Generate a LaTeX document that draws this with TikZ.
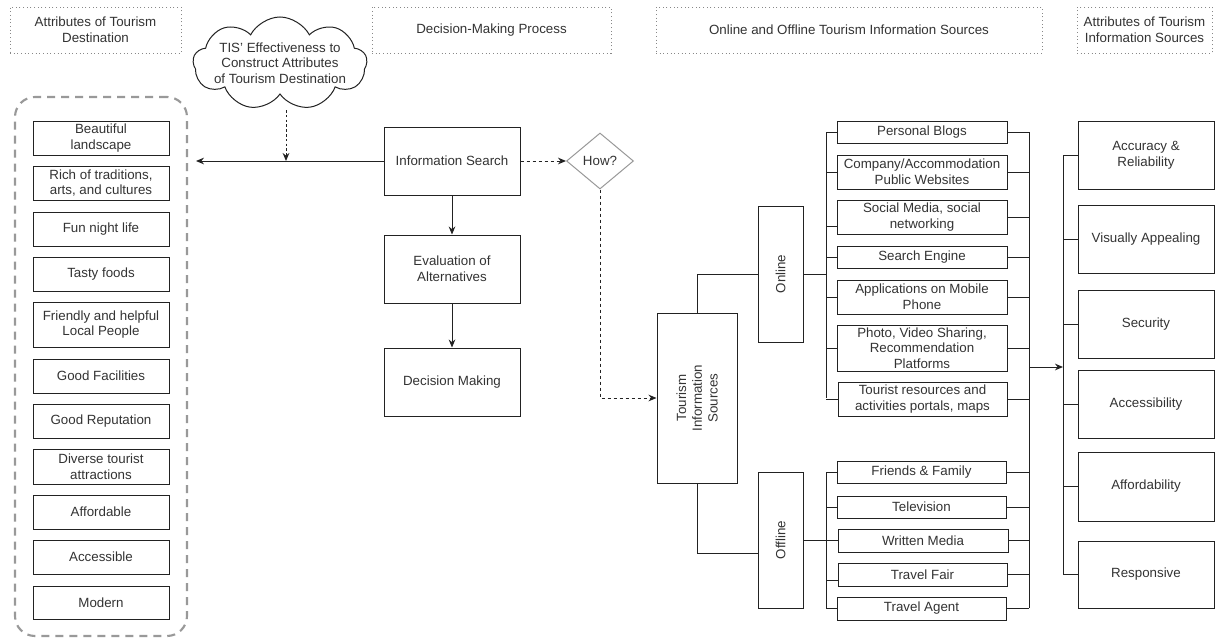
\documentclass[tikz,border=0pt]{standalone}
\usepackage{fontspec}
\setmainfont{Liberation Sans}
\usetikzlibrary{arrows.meta,shapes.geometric,shapes.symbols}
\definecolor{txt}{HTML}{333333}
\definecolor{ln}{HTML}{222222}
\definecolor{hdr}{HTML}{888888}
\definecolor{grp}{HTML}{999999}
\newcommand\pbox[6][]{\node[boxst,#1,minimum width={(#4-#2)*0.75pt},minimum height={(#5-#3)*0.75pt}] (#6) at ({(#2+#4)/2},{(#3+#5)/2})}
\newcommand\pboxr[6][]{\node[boxst,rotate=90,#1,minimum width={(#5-#3)*0.75pt},minimum height={(#4-#2)*0.75pt}] (#6) at ({(#2+#4)/2},{(#3+#5)/2})}
\tikzset{
  boxst/.style={draw=ln, line width=0.75pt, rectangle, inner sep=0pt, align=center, text=txt, font=\fontsize{10}{11.8}\selectfont},
  hdrst/.style={boxst, draw=hdr, dotted, line width=0.7pt},
  txtst/.style={align=center, text=txt, inner sep=0pt, font=\fontsize{10}{11.8}\selectfont},
  conn/.style={draw=ln, line width=0.75pt},
  arr/.style={conn, -{Stealth[length=6pt,width=5pt]}},
  dasharr/.style={arr, dash pattern=on 2.5pt off 2pt},
  dotarr/.style={arr, dash pattern=on 2pt off 1.6pt},
}
\begin{document}
\begin{tikzpicture}[x=0.75pt,y=-0.75pt]
\useasboundingbox (0,0) rectangle (1215,639);
\fill[white] (0,0) rectangle (1215,639);

% headers
\pbox[hdrst]{10}{7}{181}{53}{h1} {Attributes of Tourism\\Destination};
\pbox[hdrst]{372}{7}{611}{53}{h2} {Decision-Making Process};
\pbox[hdrst]{656}{7}{1042}{53}{h3} {Online and Offline Tourism Information Sources};
\pbox[hdrst]{1077}{7}{1212}{53}{h4} {Attributes of Tourism\\Information Sources};

% cloud
\node[cloud, draw=ln, line width=0.75pt, cloud puffs=9, cloud puff arc=125, cloud ignores aspect,
      minimum width=174*0.75pt, minimum height=93*0.75pt, inner sep=0pt] (cloud) at (280,63.5) {};
\node[txtst] (cloudtxt) at (280,63) {TIS' Effectiveness to\\Construct Attributes\\of Tourism Destination};

% dashed group
\node[draw=grp, line width=1.6pt, dash pattern=on 6pt off 4.5pt, rounded corners=15pt,
      minimum width=172*0.75pt, minimum height=539*0.75pt, inner sep=0pt] (grpbox) at (101,366.5) {};

% left items
\pbox{33}{121}{169}{155}{b1} {Beautiful\\landscape};
\pbox{33}{166}{169}{200}{b2} {Rich of traditions,\\arts, and cultures};
\pbox{33}{212}{169}{246}{b3} {Fun night life};
\pbox{33}{257}{169}{291}{b4} {Tasty foods};
\pbox{33}{302}{169}{347}{b5} {Friendly and helpful\\Local People};
\pbox{33}{359}{169}{393}{b6} {Good Facilities};
\pbox{33}{404}{169}{438}{b7} {Good Reputation};
\pbox{33}{449}{169}{484}{b8} {Diverse tourist\\attractions};
\pbox{33}{495}{169}{529}{b9} {Affordable};
\pbox{33}{540}{169}{574}{b10} {Accessible};
\pbox{33}{586}{169}{619}{b11} {Modern};

% decision process
\pbox{384}{127}{520}{195}{is} {Information Search};
\pbox{384}{235}{520}{303}{ev} {Evaluation of\\Alternatives};
\pbox{384}{348}{520}{416}{dm} {Decision Making};
\node[diamond, draw=grp, line width=0.75pt, aspect=1.2, minimum width=67*0.75pt, minimum height=56*0.75pt,
      inner sep=0pt, text=txt, font=\fontsize{10}{11.8}\selectfont] (how) at (600,161) {How?};

% sources
\pboxr{657}{313}{737}{483}{tis} {Tourism\\Information\\Sources};
\pboxr{758}{206}{803}{342}{onl} {Online};
\pboxr{758}{472}{803}{608}{off} {Offline};

\pbox{837}{121}{1007}{143}{o1} {Personal Blogs};
\pbox{837}{155}{1007}{189}{o2} {Company/Accommodation\\Public Websites};
\pbox{837}{200}{1007}{234}{o3} {Social Media, social\\networking};
\pbox{837}{246}{1007}{268}{o4} {Search Engine};
\pbox{837}{280}{1007}{314}{o5} {Applications on Mobile\\Phone};
\pbox{837}{325}{1007}{371}{o6} {Photo, Video Sharing,\\Recommendation\\Platforms};
\pbox{838}{382}{1007}{416}{o7} {Tourist resources and\\activities portals, maps};

\pbox{837}{461}{1006}{483}{f1} {Friends \& Family};
\pbox{837}{496}{1006}{518}{f2} {Television};
\pbox{838}{529}{1008}{552}{f3} {Written Media};
\pbox{838}{563}{1007}{586}{f4} {Travel Fair};
\pbox{837}{597}{1006}{620}{f5} {Travel Agent};

% attributes of sources
\pbox{1078}{121}{1214}{189}{a1} {Accuracy \&\\Reliability};
\pbox{1078}{205}{1214}{273}{a2} {Visually Appealing};
\pbox{1078}{290}{1214}{358}{a3} {Security};
\pbox{1078}{370}{1214}{438}{a4} {Accessibility};
\pbox{1078}{452}{1214}{521}{a5} {Affordability};
\pbox{1078}{541}{1214}{608}{a6} {Responsive};

% coordinates
\coordinate (lefttip) at (196,161);
\coordinate (cloudbot) at (286,110);
\coordinate (cloudhit) at (286,161);
\coordinate (lbusT) at (826,132);
\coordinate (lbusB) at (826,398);
\coordinate (obusT) at (826,472);
\coordinate (obusB) at (826,608);
\coordinate (rbusT) at (1029,132);
\coordinate (rbusB) at (1029,608);
\coordinate (rbusM) at (1029,367);
\coordinate (abusM) at (1063,367);
\coordinate (abusT) at (1063,155);
\coordinate (abusB) at (1063,574.5);

% left/decision connectors
\draw[arr] (is.west) -- (lefttip);
\draw[dotarr] (cloudbot) -- (cloudhit);
\draw[arr] (is.south) -- (ev.north);
\draw[arr] (ev.south) -- (dm.north);
\draw[dasharr] (is.east) -- (how.west);
\draw[dasharr] (how.south) |- (tis.north);

% tis to online/offline
\draw[conn] (tis.east) |- (onl.north);
\draw[conn] (tis.west) |- ([yshift=-9.75pt]off.north);

% online bus
\draw[conn] (onl.south) -- (onl.south -| lbusT);
\draw[conn] (lbusT) -- (lbusB);
\draw[conn] (o1.west) -- (o1.west -| lbusT);
\draw[conn] (o2.west) -- (o2.west -| lbusT);
\draw[conn] ([yshift=-6.75pt]o3.west) -- ([yshift=-6.75pt]o3.west -| lbusT);
\draw[conn] (o4.west) -- (o4.west -| lbusT);
\draw[conn] (o5.west) -- (o5.west -| lbusT);
\draw[conn] (o6.west) -- (o6.west -| lbusT);
\draw[conn] (o7.west) -- (o7.west -| lbusT);

% offline bus
\draw[conn] (off.south) -- (off.south -| obusT);
\draw[conn] (obusT) -- (obusB);
\draw[conn] (f1.west) -- (f1.west -| obusT);
\draw[conn] (f2.west) -- (f2.west -| obusT);
\draw[conn] (f3.west) -- (f3.west -| obusT);
\draw[conn] ([yshift=-4.5pt]f4.west) -- ([yshift=-4.5pt]f4.west -| obusT);
\draw[conn] (f5.west) -- (f5.west -| obusT);

% right bus
\draw[conn] (rbusT) -- (rbusB);
\foreach \n in {o1,o2,o3,o4,o5,o6,o7,f1,f2,f3,f4,f5}{
  \draw[conn] (\n.east) -- (\n.east -| rbusT);
}
\draw[arr] (rbusM) -- (abusM);

% attribute bus
\draw[conn] (abusT) -- (abusB);
\foreach \n in {a1,a2,a3,a4,a5,a6}{
  \draw[conn] (\n.west) -- (\n.west -| abusT);
}
\end{tikzpicture}
\end{document}
